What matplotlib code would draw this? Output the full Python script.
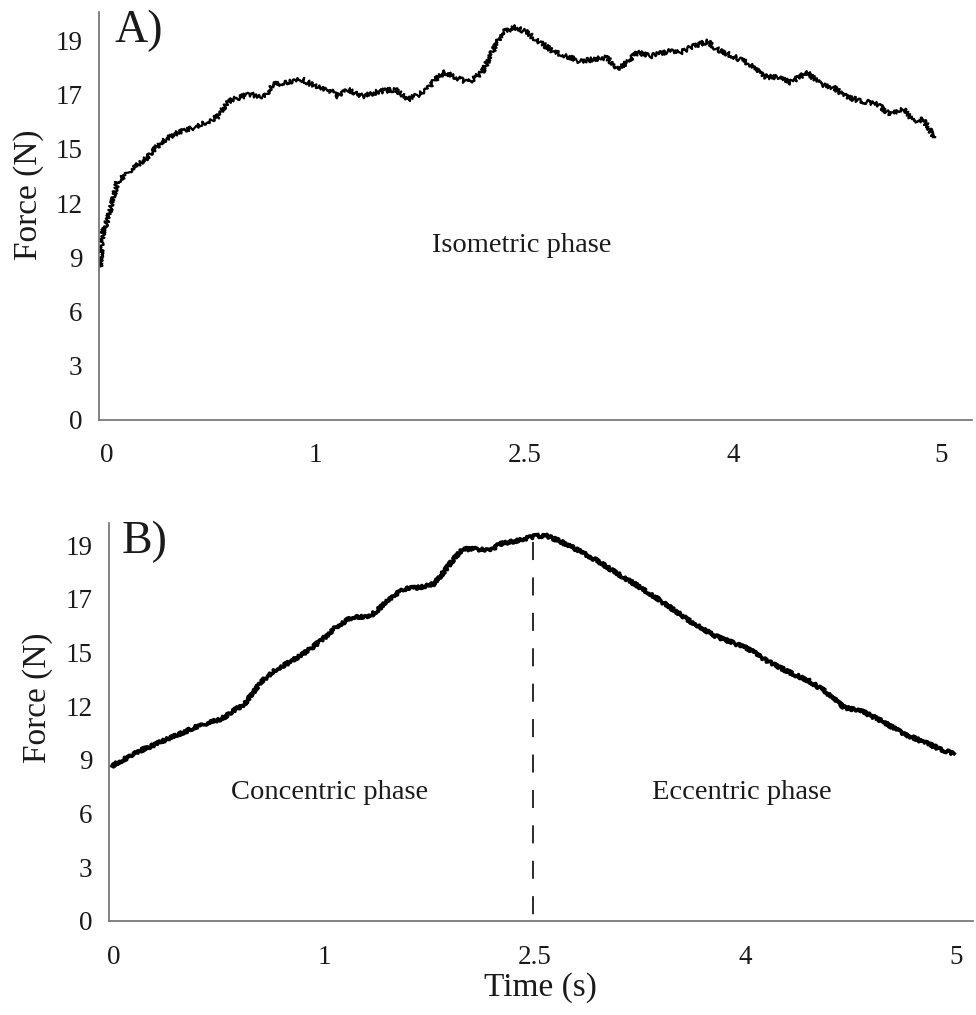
import numpy as np
import matplotlib
matplotlib.use("Agg")
import matplotlib.pyplot as plt
import matplotlib.transforms as mtransforms

# tick labels (evenly spaced on the axes, whatever their values)
time_ticks = [0, 1, 2.5, 4, 5]
force_ticks = [0, 3, 6, 9, 12, 15, 17, 19]

# A) isometric trial
time_a = [0, 0.014, 0.048, 0.082, 0.134, 0.216, 0.297, 0.374, 0.456, 0.537,
          0.566, 0.614, 0.710, 0.791, 0.825, 0.902, 0.969, 1.047, 1.140, 1.212,
          1.284, 1.385, 1.500, 1.622, 1.709, 1.838, 1.910, 1.982, 2.054, 2.148,
          2.248, 2.320, 2.392, 2.486, 2.558, 2.615, 2.666, 2.759, 2.860, 2.953,
          3.047, 3.147, 3.219, 3.291, 3.363, 3.457, 3.579, 3.673, 3.766, 3.867,
          3.939, 4.036, 4.118, 4.180, 4.247, 4.309, 4.391, 4.453, 4.516, 4.583,
          4.659, 4.727, 4.789, 4.851, 4.899, 4.947, 5.0]
force_a = [8.48, 10.37, 11.48, 13.14, 13.70, 14.42, 15.28, 15.61, 15.79, 16.09,
           16.20, 16.76, 17.01, 16.94, 17.38, 17.46, 17.57, 17.31, 17.20, 16.94,
           17.20, 16.94, 17.12, 17.20, 16.82, 17.12, 17.57, 17.83, 17.64, 17.46,
           17.83, 18.57, 19.31, 19.49, 19.34, 19.12, 18.94, 18.60, 18.42, 18.23,
           18.31, 18.38, 17.94, 18.20, 18.57, 18.42, 18.60, 18.57, 18.79, 18.97,
           18.68, 18.42, 18.12, 17.68, 17.64, 17.46, 17.83, 17.38, 17.27, 16.90,
           16.76, 16.64, 16.27, 16.46, 16.02, 16.09, 15.42]

# B) concentric + eccentric trial
time_b = [0, 0.131, 0.289, 0.410, 0.522, 0.569, 0.629, 0.709, 0.783, 0.848,
          0.942, 1.003, 1.095, 1.213, 1.332, 1.402, 1.493, 1.584, 1.703, 1.794,
          1.864, 1.934, 2.003, 2.101, 2.192, 2.262, 2.381, 2.493, 2.507, 2.600,
          2.701, 2.845, 2.959, 3.081, 3.225, 3.368, 3.512, 3.649, 3.799, 3.943,
          4.024, 4.120, 4.215, 4.311, 4.392, 4.474, 4.569, 4.665, 4.761, 4.856,
          4.933, 5.0]
force_b = [8.66, 9.50, 10.28, 10.89, 11.29, 11.68, 12.12, 13.35, 14.08, 14.47,
           15.13, 15.50, 15.95, 16.32, 16.32, 16.62, 17.07, 17.36, 17.44, 17.55,
           18.00, 18.48, 18.85, 18.85, 18.78, 19.04, 19.15, 19.30, 19.34, 19.34,
           19.12, 18.74, 18.41, 18.00, 17.55, 17.07, 16.55, 16.06, 15.61, 15.32,
           15.13, 14.47, 13.91, 13.41, 12.79, 11.95, 11.68, 11.12, 10.45, 10.00,
           9.61, 9.33]
switch_time = 2.5


def even_scale(vals):
    # maps tick values to 0,1,2,... so the labels sit evenly spaced
    vals = np.asarray(vals, float)
    idx = np.arange(len(vals), dtype=float)

    def fwd(v):
        v = np.asarray(v, float)
        out = np.interp(v, vals, idx)
        out = np.where(v < vals[0], (v - vals[0]) / (vals[1] - vals[0]), out)
        out = np.where(v > vals[-1], idx[-1] + (v - vals[-1]) / (vals[-1] - vals[-2]), out)
        return out

    def inv(p):
        p = np.asarray(p, float)
        out = np.interp(p, idx, vals)
        out = np.where(p < 0, vals[0] + p * (vals[1] - vals[0]), out)
        out = np.where(p > idx[-1], vals[-1] + (p - idx[-1]) * (vals[-1] - vals[-2]), out)
        return out

    return fwd, inv


plt.rcParams['font.family'] = ['Liberation Serif', 'DejaVu Serif']
plt.rcParams['lines.scale_dashes'] = False
ink = '#1a1a1a'
W, H = 976, 1015

fig = plt.figure(figsize=(W / 100, H / 100), dpi=100)


def px_axes(left, top, right, bottom):
    return fig.add_axes([left / W, 1 - bottom / H, (right - left) / W, (bottom - top) / H])


def style(ax, xlim, ylim, shift_px):
    ax.set_xscale('function', functions=even_scale(time_ticks))
    ax.set_yscale('function', functions=even_scale(force_ticks))
    ax.set_xlim(*xlim)
    ax.set_ylim(*ylim)
    ax.set_xticks(time_ticks)
    ax.set_xticklabels([f"{t:g}" for t in time_ticks])
    ax.set_yticks(force_ticks)
    ax.set_yticklabels([str(v) for v in force_ticks])
    ax.minorticks_off()
    for s in ['top', 'right']:
        ax.spines[s].set_visible(False)
    for s in ['left', 'bottom']:
        ax.spines[s].set_color('#6e6e6e')
        ax.spines[s].set_linewidth(1.2)
    ax.tick_params(length=0, labelsize=19.5, labelcolor=ink)
    ax.tick_params(axis='y', pad=12)
    ax.tick_params(axis='x', pad=17)
    off = mtransforms.ScaledTranslation(shift_px / 100, 0, fig.dpi_scale_trans)
    for lab in ax.get_xticklabels():
        lab.set_transform(lab.get_transform() + off)


# panel A
ax1 = px_axes(99, 12, 972, 419.5)
style(ax1, (-0.005, 5.18), (0, 20.06), 7)
ln, = ax1.plot(time_a, force_a, color='black', lw=1.6, solid_joinstyle='round')
ln.set_sketch_params(2.4, 1.2, 3)
ax1.text(0.018, 0.926, 'A)', transform=ax1.transAxes, fontsize=33, color=ink, va='baseline')
ax1.text(0.4845, 0.4275, 'Isometric phase', transform=ax1.transAxes, fontsize=20.5,
         color=ink, ha='center', va='center')

# panel B
ax2 = px_axes(109, 523, 973, 921)
style(ax2, (-0.014, 5.09), (0, 19.82), 2)
ln, = ax2.plot(time_b, force_b, color='black', lw=2.6, solid_joinstyle='round')
ln.set_sketch_params(1.6, 1.2, 3)
ax2.plot([switch_time, switch_time], [19.1, 0], color=ink, lw=1.3, dashes=(13, 12.5))
ax2.text(0.015, 0.925, 'B)', transform=ax2.transAxes, fontsize=33, color=ink, va='baseline')
ax2.text(0.2558, 0.324, 'Concentric phase', transform=ax2.transAxes, fontsize=20.5,
         color=ink, ha='center', va='center')
ax2.text(0.7326, 0.324, 'Eccentric phase', transform=ax2.transAxes, fontsize=20.5,
         color=ink, ha='center', va='center')

# axis titles
fig.text(29 / W, 1 - 195 / H, 'Force (N)', rotation=90, fontsize=24, color=ink,
         ha='center', va='center')
fig.text(38 / W, 1 - 698 / H, 'Force (N)', rotation=90, fontsize=24, color=ink,
         ha='center', va='center')
fig.text(540 / W, 1 - 988 / H, 'Time (s)', fontsize=24, color=ink, ha='center', va='center')

fig.savefig('out.png', dpi=100)
